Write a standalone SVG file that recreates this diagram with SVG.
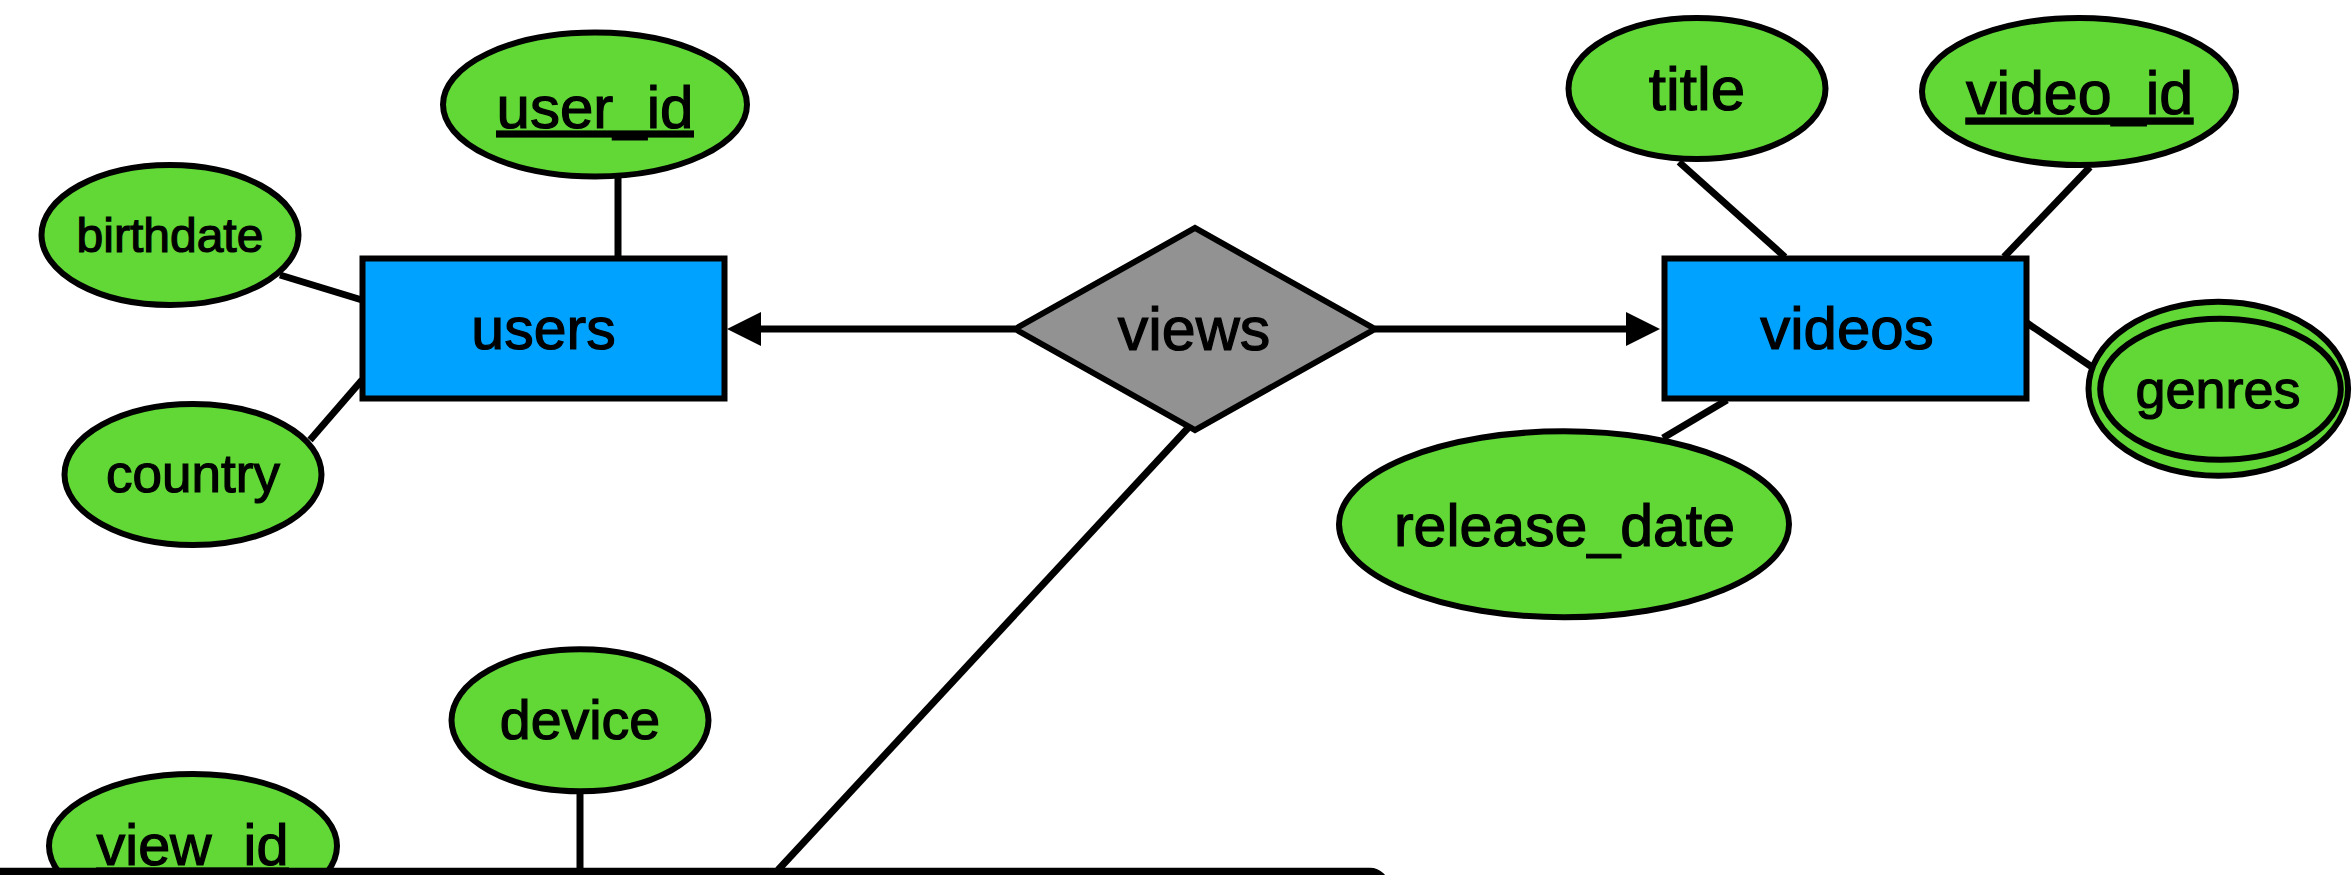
<svg xmlns="http://www.w3.org/2000/svg" width="2352" height="875" viewBox="0 0 2352 875">
<style>
.attr{fill:#61D836;stroke:#000;stroke-width:6}
.ent{fill:#00A2FF;stroke:#000;stroke-width:6}
.rel{fill:#929292;stroke:#000;stroke-width:6;stroke-linejoin:miter}
.lbl{font-family:"Liberation Sans",Arial,Helvetica,sans-serif;fill:#000;stroke:#000;stroke-width:1.2;text-anchor:middle}
.key{text-decoration:underline}
.conn line{stroke:#000;stroke-width:7;fill:none}
</style>
<defs>
<marker id="arrow" markerUnits="userSpaceOnUse" markerWidth="34" markerHeight="34" refX="3" refY="17" orient="auto">
<path d="M0,0 L34,17 L0,34 z" fill="#000"/>
</marker>
</defs>
<rect x="0" y="0" width="2352" height="875" fill="#fff"/>
<g id="connectors" class="conn">
<line x1="618" y1="178" x2="618" y2="258"/>
<line x1="280" y1="275" x2="362" y2="300"/>
<line x1="310" y1="440" x2="362" y2="380"/>
<line x1="1015" y1="329" x2="758" y2="329" marker-end="url(#arrow)"/>
<line x1="1375" y1="329" x2="1629" y2="329" marker-end="url(#arrow)"/>
<line x1="1679" y1="162" x2="1785" y2="257"/>
<line x1="2090" y1="167" x2="2004" y2="257"/>
<line x1="2027" y1="323" x2="2092" y2="367"/>
<line x1="1727" y1="400" x2="1663" y2="438"/>
<line x1="580" y1="792" x2="580" y2="870"/>
<line x1="1188" y1="428" x2="778" y2="870"/>
</g>
<g id="user_id"><ellipse class="attr" cx="595" cy="104.5" rx="152" ry="72"/><text class="lbl key" x="595" y="128" font-size="60">user_id</text></g>
<g id="birthdate"><ellipse class="attr" cx="170" cy="235" rx="128.5" ry="70"/><text class="lbl" x="170" y="252" font-size="48">birthdate</text></g>
<g id="country"><ellipse class="attr" cx="193" cy="474.5" rx="128.5" ry="70.5"/><text class="lbl" x="193" y="492" font-size="53">country</text></g>
<g id="users"><rect class="ent" x="362.5" y="258.5" width="362" height="140"/><text class="lbl" x="543.5" y="349" font-size="59">users</text></g>
<g id="views"><polygon class="rel" points="1015,329 1195,228 1375,329 1195,430"/><text class="lbl" x="1194" y="350" font-size="61">views</text></g>
<g id="videos"><rect class="ent" x="1664.5" y="258.5" width="362" height="140"/><text class="lbl" x="1847" y="349" font-size="60">videos</text></g>
<g id="title"><ellipse class="attr" cx="1697" cy="88.5" rx="128.5" ry="70.5"/><text class="lbl" x="1697" y="110" font-size="62">title</text></g>
<g id="video_id"><ellipse class="attr" cx="2079" cy="91.5" rx="157" ry="73.5"/><text class="lbl key" x="2079.5" y="114" font-size="61">video_id</text></g>
<g id="genres"><ellipse class="attr" cx="2218.3" cy="388.8" rx="129.8" ry="87" stroke-width="7"/><ellipse class="attr" cx="2220.5" cy="389.2" rx="120.3" ry="70.5" stroke-width="4.5"/><text class="lbl" x="2218" y="408" font-size="54">genres</text></g>
<g id="release_date"><ellipse class="attr" cx="1564" cy="524.3" rx="225" ry="93"/><text class="lbl" x="1564.5" y="546" font-size="59">release_date</text></g>
<g id="device"><ellipse class="attr" cx="580" cy="720.3" rx="128.5" ry="71"/><text class="lbl" x="580" y="739" font-size="55.5">device</text></g>
<g id="view_id"><ellipse class="attr" cx="193" cy="846" rx="144" ry="72"/><text class="lbl key" x="192.5" y="865" font-size="57.5">view_id</text></g>
<g id="bottom_box"><rect x="-20" y="871.7" width="1405" height="200" rx="15" ry="15" fill="#fff" stroke="#000" stroke-width="8"/></g>
</svg>
